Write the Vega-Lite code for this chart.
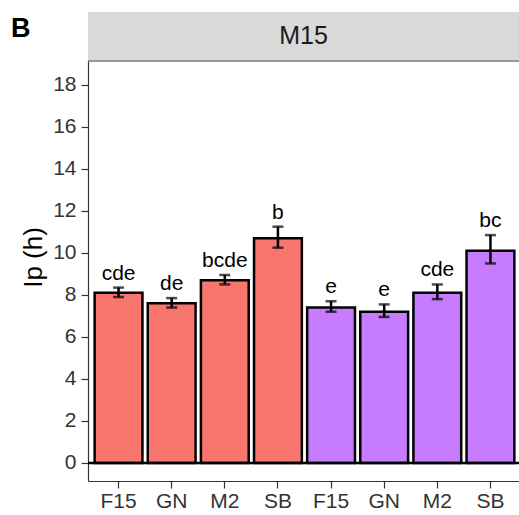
{
  "$schema": "https://vega.github.io/schema/vega-lite/v6.json",
  "width": 431,
  "height": 420,
  "autosize": {"type": "none"},
  "padding": {"left": 88, "top": 61, "right": 0, "bottom": 34},
  "background": "white",
  "config": {
    "view": {"stroke": null},
    "font": "Liberation Sans",
    "axis": {"labelFontSize": 21, "labelColor": "#333333", "labelFont": "Liberation Sans", "tickSize": 7, "tickColor": "#333333", "tickWidth": 1.2, "domainColor": "#333333", "domainWidth": 1.2, "grid": false, "titleFontSize": 26, "titleFontWeight": "normal", "titleColor": "black", "titleFont": "Liberation Sans"}
  },
  "title": {"text": "B", "anchor": "start", "frame": "group", "fontSize": 27, "fontWeight": "bold", "color": "black", "font": "Liberation Sans", "dx": -77, "offset": 0, "dy": 52, "baseline": "alphabetic"},
  "data": {"values": [
    {"bar": "1 F15", "group": "g1", "mean": 8.1, "lo": 7.9, "hi": 8.35, "letter": "cde"},
    {"bar": "1 GN", "group": "g1", "mean": 7.6, "lo": 7.4, "hi": 7.85, "letter": "de"},
    {"bar": "1 M2", "group": "g1", "mean": 8.7, "lo": 8.5, "hi": 8.95, "letter": "bcde"},
    {"bar": "1 SB", "group": "g1", "mean": 10.7, "lo": 10.25, "hi": 11.25, "letter": "b"},
    {"bar": "2 F15", "group": "g2", "mean": 7.4, "lo": 7.2, "hi": 7.7, "letter": "e"},
    {"bar": "2 GN", "group": "g2", "mean": 7.2, "lo": 6.95, "hi": 7.55, "letter": "e"},
    {"bar": "2 M2", "group": "g2", "mean": 8.1, "lo": 7.8, "hi": 8.5, "letter": "cde"},
    {"bar": "2 SB", "group": "g2", "mean": 10.1, "lo": 9.5, "hi": 10.85, "letter": "bc"}
  ]},
  "encoding": {
    "x": {"field": "bar", "type": "nominal", "sort": null,
      "scale": {"range": [0, 433], "paddingInner": 0.1, "paddingOuter": 0.125},
      "axis": {"title": null, "labelExpr": "split(datum.label, ' ')[1]", "labelAngle": 0, "labelPadding": 2}}
  },
  "layer": [
    {
      "data": {"values": [{"panel": "M15"}]},
      "mark": {"type": "rect", "color": "#d9d9d9"},
      "encoding": {"x": null, "y": {"datum": 19.19, "type": "quantitative"}, "y2": {"datum": 21.47}}
    },
    {
      "data": {"values": [{"panel": "M15"}]},
      "mark": {"type": "text", "fontSize": 25, "color": "#1a1a1a", "baseline": "middle", "font": "Liberation Sans"},
      "encoding": {"x": null, "y": {"datum": 20.33, "type": "quantitative"}, "text": {"field": "panel"}}
    },
    {
      "mark": {"type": "bar", "stroke": "black", "strokeWidth": 2.5},
      "encoding": {
        "y": {"field": "mean", "type": "quantitative",
          "scale": {"domain": [-0.86, 19.14], "nice": false, "zero": false},
          "axis": {"title": "Ip (h)", "values": [0, 2, 4, 6, 8, 10, 12, 14, 16, 18], "labelPadding": 5, "titlePadding": 6, "titleY": 196}},
        "y2": {"datum": 0},
        "color": {"field": "group", "type": "nominal", "scale": {"domain": ["g1", "g2"], "range": ["#F8766D", "#C77CFF"]}, "legend": null}
      }
    },
    {
      "mark": {"type": "rule", "color": "black", "strokeWidth": 2.5},
      "encoding": {"y": {"field": "lo", "type": "quantitative"}, "y2": {"field": "hi"}}
    },
    {
      "mark": {"type": "tick", "color": "black", "size": 11, "thickness": 2.5},
      "encoding": {"y": {"field": "lo", "type": "quantitative"}}
    },
    {
      "mark": {"type": "tick", "color": "black", "size": 11, "thickness": 2.5},
      "encoding": {"y": {"field": "hi", "type": "quantitative"}}
    },
    {
      "mark": {"type": "text", "fontSize": 21, "color": "black", "baseline": "alphabetic", "dy": -8, "font": "Liberation Sans"},
      "encoding": {"y": {"field": "hi", "type": "quantitative"}, "text": {"field": "letter"}}
    },
    {
      "data": {"values": [{"panel": "M15"}]},
      "mark": {"type": "rule", "color": "black", "strokeWidth": 2.5},
      "encoding": {"x": null, "y": {"datum": 0, "type": "quantitative"}}
    },
    {
      "data": {"values": [{"panel": "M15"}]},
      "mark": {"type": "rule", "color": "#333333", "strokeWidth": 1.2},
      "encoding": {"x": null, "y": {"datum": 19.14, "type": "quantitative"}}
    }
  ]
}
